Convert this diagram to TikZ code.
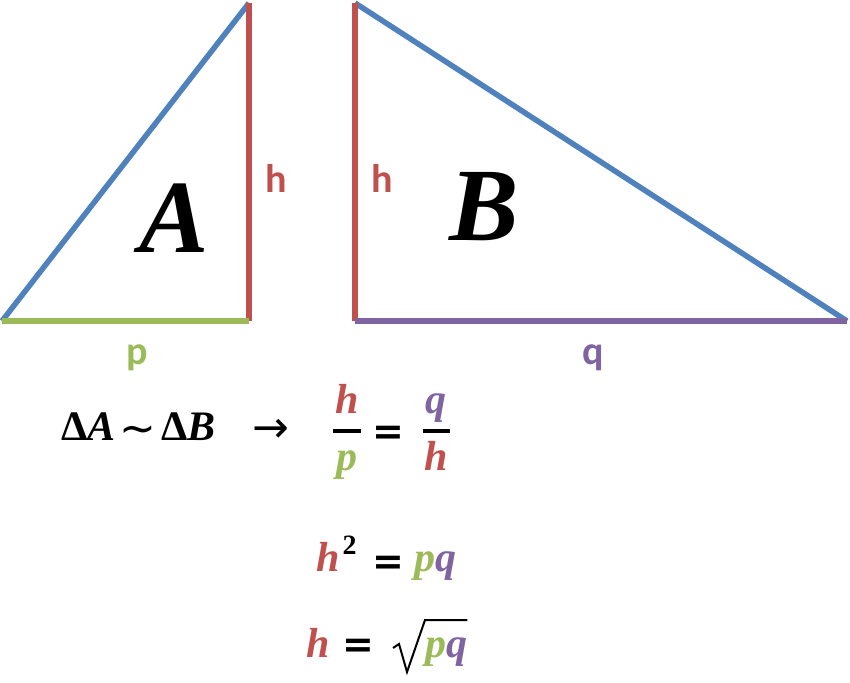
\documentclass[tikz,border=0pt]{standalone}
\usepackage{fontspec}
\setmainfont{Liberation Serif}
\newfontfamily\lblfont{Carlito}[BoldFont=* Bold]
\newfontfamily\symfont{DejaVu Sans}
\definecolor{tblue}{HTML}{4F81BD}
\definecolor{tred}{HTML}{C0504D}
\definecolor{tgreen}{HTML}{9BBB59}
\definecolor{tpurple}{HTML}{8064A2}
\begin{document}
\begin{tikzpicture}[x=1pt,y=-1pt,
  side/.style={line width=5.5pt},
  lbl/.style={inner sep=0pt,anchor=base,font=\lblfont\bfseries\fontsize{40}{40}\selectfont},
  big/.style={inner sep=0pt,anchor=base,font=\bfseries\itshape\fontsize{104}{104}\selectfont},
  eq/.style={inner sep=0pt,anchor=base,font=\bfseries\itshape\fontsize{42}{42}\selectfont},
  eqw/.style={eq,anchor=base west},
  eqs/.style={inner sep=0pt,anchor=base,font=\symfont\bfseries\fontsize{38}{38}\selectfont},
  fbar/.style={line width=3.5pt}]
\useasboundingbox (0,0) rectangle (850,682);
% triangle A
\coordinate (a1) at (2,321);
\coordinate (a2) at (249,3);
\coordinate (a3) at (249,321);
\draw[side,tblue] (a1) -- (a2);
\draw[side,tred] (a2) -- (a3);
\draw[side,tgreen] (a1) -- (a3);
% triangle B
\coordinate (b1) at (355,3);
\coordinate (b2) at (355,321);
\coordinate (b3) at (847,321);
\draw[side,tblue] (b1) -- (b3);
\draw[side,tred] (b1) -- (b2);
\draw[side,tpurple] (b2) -- (b3);
% labels
\node[lbl,tred] (hA) at (276,192) {h};
\node[lbl,tred] (hB) at (382,192) {h};
\node[lbl,tgreen] (pl) at (137,364) {p};
\node[lbl,tpurple] (ql) at (593,364) {q};
\node[big] (A) at (174,252) {A};
\node[big] (B) at (484,240) {B};
% equation 1
\node[eqw] (dA) at (61,440) {\upshape Δ\itshape A};
\node[eqs,font=\symfont\fontsize{44}{44}\selectfont] (sim) at (137.5,443) {∼};
\node[eqw] (dB) at (161,440) {\upshape Δ\itshape B};
\node[eqs,font=\symfont\fontsize{44}{44}\selectfont] (arr) at (271,442) {→};
\node[eq,tred] (n1) at (347,413) {h};
\draw[fbar] (333,431) -- (361,431);
\node[eq,tgreen] (d1) at (347,470) {p};
\node[eqs] (e1) at (388,444) {=};
\node[eq,tpurple] (n2) at (436,413) {q};
\draw[fbar] (423,431) -- (450,431);
\node[eq,tred] (d2) at (436,470) {h};
% equation 2
\node[eqw,tred] (h2) at (316,571) {h\kern3pt\raisebox{0.4em}{\upshape\color{black}\fontsize{28}{28}\selectfont 2}};
\node[eqs] (e2) at (388,574) {=};
\node[eqw] (pq2) at (414,571) {\color{tgreen}p\color{tpurple}q};
% equation 3
\node[eqw,tred] (h3) at (306,657) {h};
\node[eqs] (e3) at (358,657) {=};
\node[eqw] (pq3) at (425,657) {\color{tgreen}p\color{tpurple}q};
\draw[line width=2pt,line join=miter] (393,648) -- (399,644) -- (407,672) -- (425,620) -- (pq3.east |- 0,620);
\end{tikzpicture}
\end{document}
